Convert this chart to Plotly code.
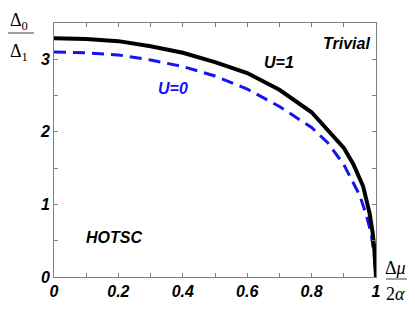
import plotly.graph_objects as go

# U=1 curve (solid black)
x_u1 = [0.0, 0.1, 0.2, 0.3, 0.4, 0.5, 0.6, 0.7, 0.8, 0.85, 0.9, 0.93, 0.96, 0.98, 0.99, 0.995, 1.0]
y_u1 = [3.29, 3.28, 3.25, 3.18, 3.09, 2.96, 2.81, 2.58, 2.27, 2.03, 1.78, 1.55, 1.25, 0.88, 0.6, 0.37, 0.0]

# U=0 curve (dashed blue)
x_u0 = [0.0, 0.1, 0.2, 0.3, 0.4, 0.5, 0.6, 0.7, 0.8, 0.85, 0.9, 0.93, 0.95, 0.97, 0.985, 0.995, 1.0]
y_u0 = [3.10, 3.09, 3.06, 2.99, 2.90, 2.77, 2.59, 2.35, 2.06, 1.85, 1.55, 1.30, 1.12, 0.85, 0.6, 0.28, 0.0]

x_tickvals = [0, 0.1, 0.2, 0.3, 0.4, 0.5, 0.6, 0.7, 0.8, 0.9, 1.0]
x_ticklabels = ["0", "", "0.2", "", "0.4", "", "0.6", "", "0.8", "", "1"]
y_tickvals = [0, 0.5, 1, 1.5, 2, 2.5, 3, 3.5]
y_ticklabels = ["0", "", "1", "", "2", "", "3", ""]

# page body has an 8px margin, so the figure is drawn 8px smaller and offset
OFF = 8
W, H = 415 - OFF, 312 - OFF
L, R, T, B = 54 - OFF, 39, 23 - OFF, 35
pw, ph = W - L - R, H - T - B

def px_x(p):
    return (p - OFF - L) / pw

def px_y(p):
    return (H - B - (p - OFF)) / ph

def bi(s):
    return f"<b><i>{s}</i></b>" if s else ""

BLUE = "#1414f0"

fig = go.Figure()
fig.add_trace(go.Scatter(x=x_u0, y=y_u0, mode="lines",
                         line=dict(color=BLUE, width=3, dash="12px,7px"),
                         showlegend=False))
fig.add_trace(go.Scatter(x=x_u1, y=y_u1, mode="lines",
                         line=dict(color="black", width=4),
                         showlegend=False))

tickfont = dict(family="Liberation Sans, Arial", size=16, color="black")
axis_common = dict(showline=True, linecolor="#808080", linewidth=1, mirror="ticks",
                   ticks="inside", ticklen=4, tickcolor="#808080", showgrid=False,
                   zeroline=False, tickfont=tickfont)

fig.update_xaxes(range=[0, 1], tickvals=x_tickvals,
                 ticktext=[bi(s) for s in x_ticklabels], **axis_common)
fig.update_yaxes(range=[0, 3.5], tickvals=y_tickvals,
                 ticktext=[bi(s) for s in y_ticklabels], **axis_common)

annfont = dict(family="Liberation Sans, Arial", size=16, color="black")
fig.add_annotation(x=0.907, y=3.22, text=bi("Trivial"), showarrow=False, font=annfont)
fig.add_annotation(x=0.699, y=2.95, text=bi("U=1"), showarrow=False, font=annfont)
fig.add_annotation(x=0.37, y=2.60, text=bi("U=0"), showarrow=False,
                   font=dict(annfont, color=BLUE))
fig.add_annotation(x=0.186, y=0.54, text=bi("HOTSC"), showarrow=False, font=annfont)

serif = dict(family="Liberation Serif, Times New Roman", size=18, color="black")
lab = dict(xref="paper", yref="paper", showarrow=False,
           xanchor="center", yanchor="middle")
# y-axis label fraction
fig.add_annotation(x=px_x(19), y=px_y(21), text="Δ<sub>0</sub>", font=serif, **lab)
fig.add_annotation(x=px_x(19), y=px_y(52), text="Δ<sub>1</sub>", font=serif, **lab)
fig.add_shape(type="line", xref="paper", yref="paper",
              x0=px_x(8), x1=px_x(34), y0=px_y(33), y1=px_y(33),
              line=dict(color="#404040", width=1))
# x-axis label fraction
fig.add_annotation(x=px_x(396), y=px_y(268), text="Δ<i>μ</i>", font=serif, **lab)
fig.add_annotation(x=px_x(396), y=px_y(294), text="2<i>α</i>", font=serif, **lab)
fig.add_shape(type="line", xref="paper", yref="paper",
              x0=px_x(386), x1=px_x(409), y0=px_y(279), y1=px_y(279),
              line=dict(color="#404040", width=1))

fig.update_layout(width=W, height=H, margin=dict(l=L, r=R, t=T, b=B),
                  paper_bgcolor="white", plot_bgcolor="white")

fig.write_html("out.html")
